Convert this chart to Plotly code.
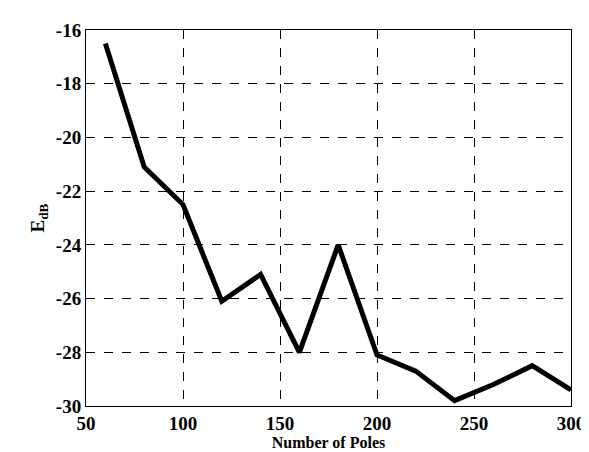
import plotly.graph_objects as go

poles = [60, 80, 100, 120, 140, 160, 180, 200, 220, 240, 260, 280, 300]
edb = [-16.5, -21.1, -22.5, -26.1, -25.1, -28.0, -24.0, -28.1, -28.7, -29.8, -29.2, -28.5, -29.4]

x_ticks = [50, 100, 150, 200, 250, 300]
y_ticks = [-30, -28, -26, -24, -22, -20, -18, -16]

font = "Liberation Serif"

fig = go.Figure()
fig.add_trace(go.Scatter(x=poles, y=edb, mode="lines",
                         line=dict(color="black", width=5), showlegend=False))

fig.update_layout(
    width=589, height=452,
    margin=dict(l=78, r=24, t=15, b=54),
    paper_bgcolor="white", plot_bgcolor="white",
    font=dict(family=font, color="black"),
    xaxis=dict(range=[50, 300], tickvals=x_ticks, ticktext=[f"<b>{v}</b>" for v in x_ticks],
               tickfont=dict(size=19, family=font), showgrid=True, gridcolor="black",
               griddash="dash", gridwidth=1, showline=True, linecolor="black", linewidth=1,
               mirror=True, zeroline=False, ticks="",
               title=dict(text="<b>Number of Poles</b>", font=dict(size=16, family=font), standoff=0)),
    yaxis=dict(range=[-30, -16], tickvals=y_ticks, ticktext=[f"<b>{v}</b>" for v in y_ticks],
               tickfont=dict(size=19, family=font), showgrid=True, gridcolor="black",
               griddash="dash", gridwidth=1, showline=True, linecolor="black", linewidth=1,
               mirror=True, zeroline=False, ticks="",
               title=dict(text="<b>E<sub>dB</sub></b>", font=dict(size=19, family=font), standoff=6)),
)

fig.write_html("out.html")
